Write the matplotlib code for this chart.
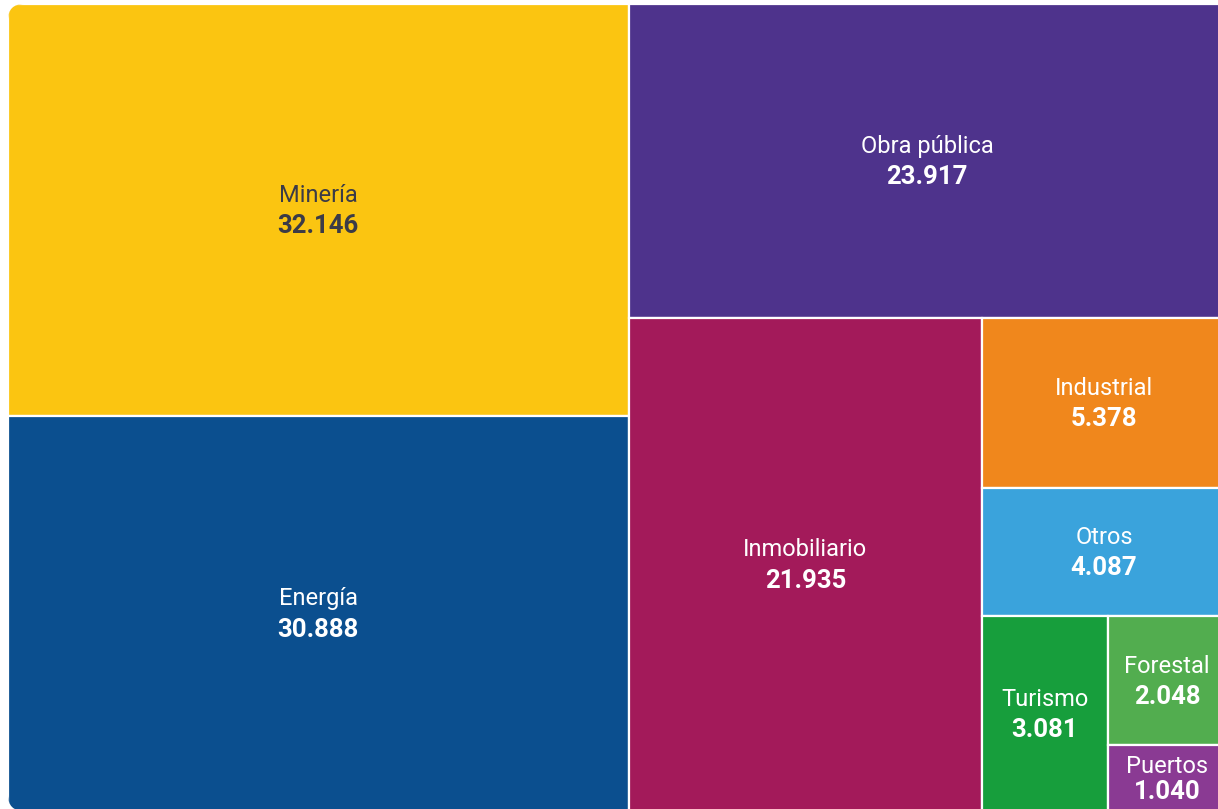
import matplotlib
matplotlib.use("Agg")
import matplotlib.pyplot as plt
from matplotlib.patches import Rectangle, FancyBboxPatch

categories = ["Minería", "Energía", "Obra pública", "Inmobiliario", "Industrial",
              "Otros", "Turismo", "Forestal", "Puertos"]
values = [32146, 30888, 23917, 21935, 5378, 4087, 3081, 2048, 1040]
value_labels = ["32.146", "30.888", "23.917", "21.935", "5.378", "4.087", "3.081", "2.048", "1.040"]
colors = ["#FBC511", "#0B4F8F", "#4E338C", "#A31A5A", "#F0871C",
          "#3AA3DC", "#179E3C", "#52AD4F", "#8A3A93"]
text_colors = ["#3b3b47"] + ["white"] * 8


# ---- squarified treemap layout ----
def layoutrow(sizes, x, y, dx, dy):
    covered = sum(sizes)
    width = covered / dy
    rects = []
    for s in sizes:
        rects.append((x, y, width, s / width))
        y += s / width
    return rects


def layoutcol(sizes, x, y, dx, dy):
    covered = sum(sizes)
    height = covered / dx
    rects = []
    for s in sizes:
        rects.append((x, y, s / height, height))
        x += s / height
    return rects


def layout(sizes, x, y, dx, dy):
    return layoutrow(sizes, x, y, dx, dy) if dx >= dy else layoutcol(sizes, x, y, dx, dy)


def leftover(sizes, x, y, dx, dy):
    covered = sum(sizes)
    if dx >= dy:
        width = covered / dy
        return x + width, y, dx - width, dy
    height = covered / dx
    return x, y + height, dx, dy - height


def worst(sizes, x, y, dx, dy):
    return max(max(r[2] / r[3], r[3] / r[2]) for r in layout(sizes, x, y, dx, dy))


def squarify(sizes, x, y, dx, dy):
    if len(sizes) == 0:
        return []
    if len(sizes) == 1:
        return layout(sizes, x, y, dx, dy)
    i = 1
    while i < len(sizes) and worst(sizes[:i], x, y, dx, dy) >= worst(sizes[:i + 1], x, y, dx, dy):
        i += 1
    current, remaining = sizes[:i], sizes[i:]
    lx, ly, ldx, ldy = leftover(current, x, y, dx, dy)
    return layout(current, x, y, dx, dy) + squarify(remaining, lx, ly, ldx, ldy)


# ---- figure ----
FW, FH = 1218, 809
fig = plt.figure(figsize=(FW / 100, FH / 100), dpi=100)
fig.patch.set_facecolor("white")
ax = fig.add_axes([0, 0, 1, 1])
ax.set_xlim(0, FW)
ax.set_ylim(FH, 0)
ax.axis("off")

X0, Y0, W, H = 8, 4, 1226, 807
total = sum(values)
norm = [v * W * H / total for v in values]
rects = squarify(norm, X0, Y0, W, H)

clip = FancyBboxPatch((X0, Y0), W, H, boxstyle="round,pad=0,rounding_size=16",
                      facecolor="none", edgecolor="none", transform=ax.transData)
ax.add_patch(clip)

for (x, y, w, h), name, lab, c, tc in zip(rects, categories, value_labels, colors, text_colors):
    r = Rectangle((x, y), w, h, facecolor=c, edgecolor="white", linewidth=1.6)
    ax.add_patch(r)
    r.set_clip_path(clip)
    cx = x + w / 2
    vis_right = min(x + w, FW - 4)
    cx = min(cx, (x + vis_right) / 2 + 6)
    cy = y + h / 2 + 1
    gap = 15.5 if h > 80 else 13
    ax.text(cx, cy - gap, name, ha="center", va="center", fontsize=17,
            family="Roboto", fontweight="normal", color=tc)
    ax.text(cx, cy + gap, lab, ha="center", va="center", fontsize=18.5,
            family="Roboto", fontweight="bold", color=tc)

fig.savefig("out.png", dpi=100, facecolor="white")
